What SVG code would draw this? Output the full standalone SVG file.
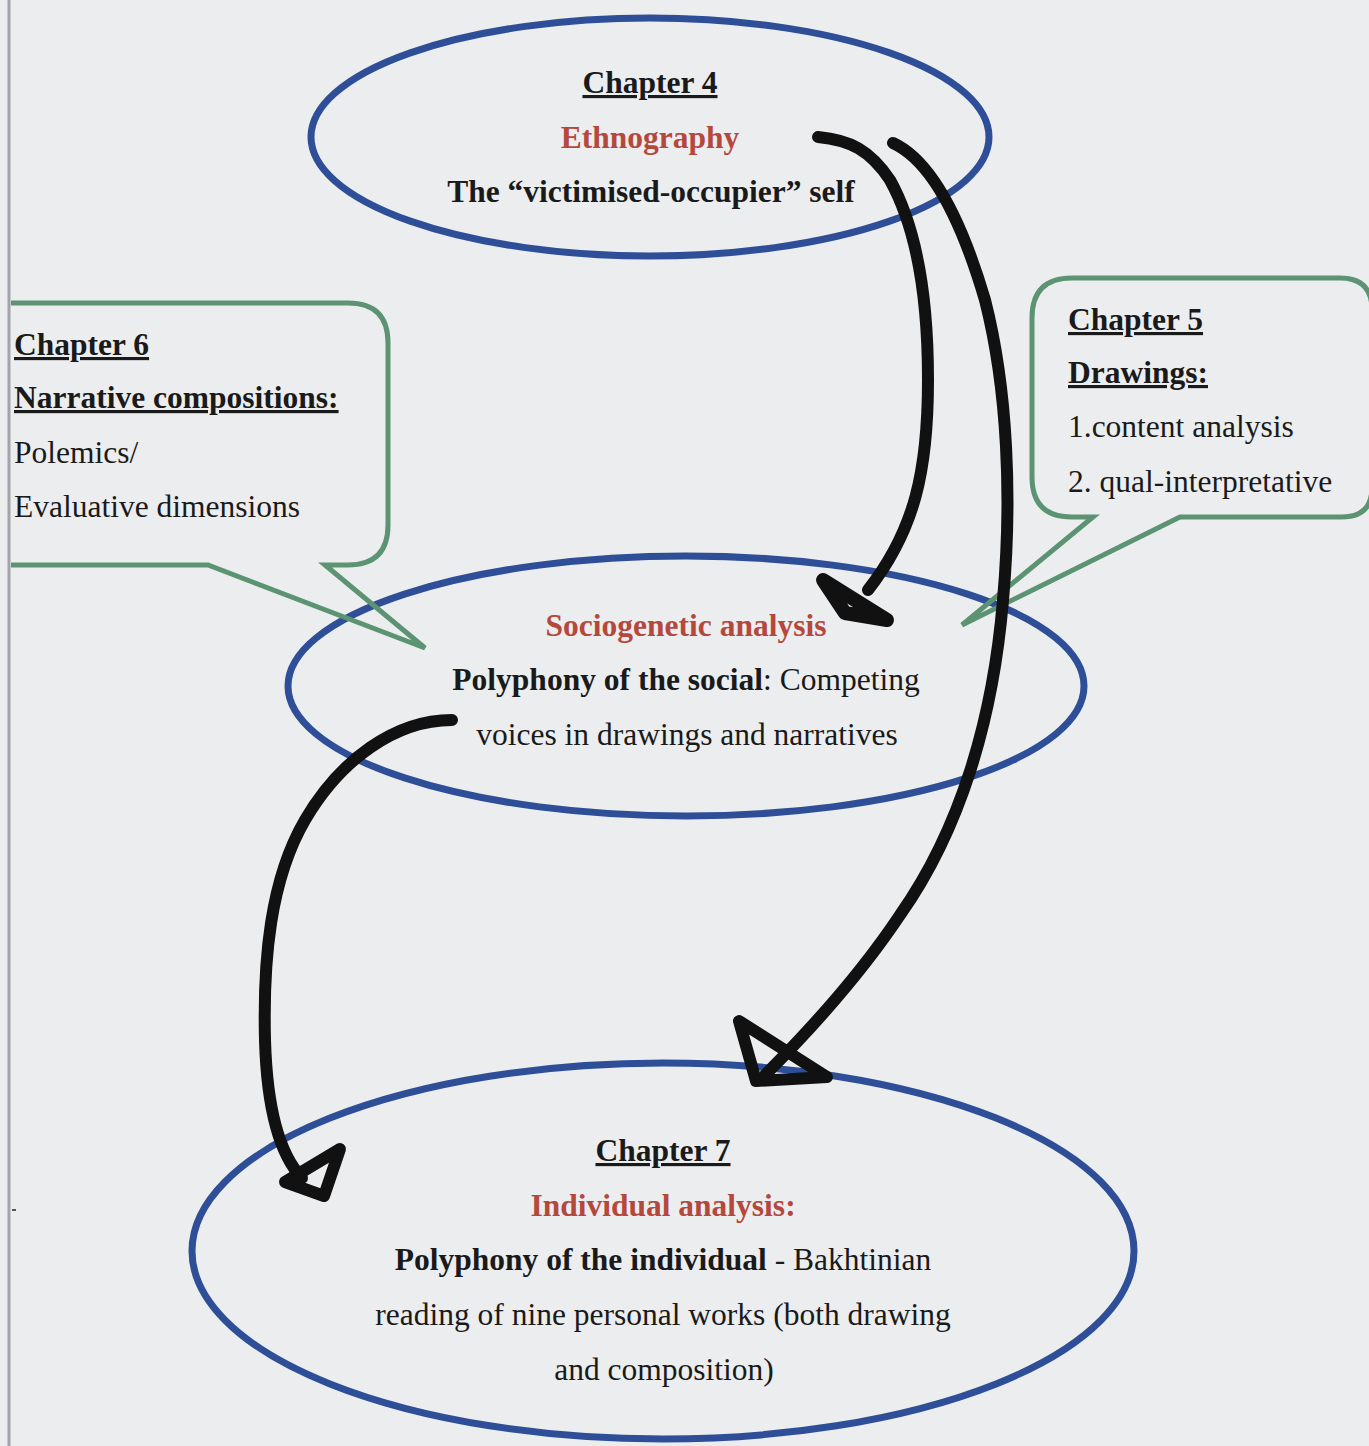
<svg xmlns="http://www.w3.org/2000/svg" width="1369" height="1446" viewBox="0 0 1369 1446">
<defs>
<style>
.t{font-family:"Liberation Serif","Times New Roman",serif;font-size:31.5px;fill:#1a1a1a}
.b{font-weight:bold}
.r{fill:#b5483d;font-weight:bold}
.u{text-decoration:underline}
.c{text-anchor:middle}
.ell{fill:none;stroke:#2e4f98;stroke-width:7}
.call{fill:none;stroke:#5c9473;stroke-width:5;stroke-linejoin:miter}
.arr{fill:none;stroke:#111;stroke-width:12;stroke-linecap:round;stroke-linejoin:round}
</style>
<clipPath id="page"><rect x="11" y="0" width="1360" height="1446"/></clipPath>
</defs>
<rect width="1369" height="1446" fill="#ecedef"/>
<line x1="9" y1="0" x2="9" y2="1446" stroke="#a3a4ab" stroke-width="3"/>
<line x1="12" y1="1210" x2="16" y2="1210" stroke="#555" stroke-width="2"/>
<g clip-path="url(#page)">
<g id="ch4">
<ellipse class="ell" cx="650" cy="137" rx="339" ry="119"/>
<text class="t b u c" x="650" y="93">Chapter 4</text>
<text class="t r c" x="650" y="148">Ethnography</text>
<text class="t b c" x="651" y="202">The “victimised-occupier” self</text>
</g>
<g id="socio">
<ellipse class="ell" cx="686" cy="686" rx="398" ry="130"/>
<text class="t r c" x="686" y="636">Sociogenetic analysis</text>
<text class="t c" x="686" y="690"><tspan class="b">Polyphony of the social</tspan>: Competing</text>
<text class="t c" x="687" y="745">voices in drawings and narratives</text>
</g>
<g id="ch7">
<ellipse class="ell" cx="663" cy="1251" rx="471" ry="188"/>
<text class="t b u c" x="663" y="1161">Chapter 7</text>
<text class="t r c" x="663" y="1216">Individual analysis:</text>
<text class="t c" x="663" y="1270"><tspan class="b">Polyphony of the individual</tspan> - Bakhtinian</text>
<text class="t c" x="663" y="1325">reading of nine personal works (both drawing</text>
<text class="t c" x="664" y="1380">and composition)</text>
</g>
<g id="ch6">
<path class="call" d="M-20,303 H348 Q388,303 388,343 V525 Q388,565 348,565 H325 L425,648 L208,565 H-20 Z"/>
<text class="t b u" x="14" y="355">Chapter 6</text>
<text class="t b u" x="14" y="408">Narrative compositions:</text>
<text class="t" x="14" y="463">Polemics/</text>
<text class="t" x="14" y="517">Evaluative dimensions</text>
</g>
<g id="ch5">
<path class="call" d="M1072,278 H1340 Q1372,278 1372,310 V487 Q1372,517 1342,517 H1180 L962,625 L1093,517 H1072 Q1032,517 1032,477 V318 Q1032,278 1072,278 Z"/>
<text class="t b u" x="1068" y="330">Chapter 5</text>
<text class="t b u" x="1068" y="383">Drawings:</text>
<text class="t" x="1068" y="437">1.content analysis</text>
<text class="t" x="1068" y="492">2. qual-interpretative</text>
</g>
<g id="connectors">
<path class="arr" d="M818,137 C850,140 870,150 890,180 C915,225 928,290 928,380 C928,470 915,530 868,590"/>
<polygon class="arr" points="823,580 887,620 845,613" fill="#111" style="stroke-width:14"/>
<path class="arr" d="M893,143 C930,160 960,215 985,300 C1008,390 1012,500 1003,600 C993,720 960,830 900,915 C860,975 810,1030 765,1075"/>
<polygon class="arr" points="739,1021 756,1081 827,1077"/>
<path class="arr" d="M452,720 C395,720 340,760 305,820 C270,880 263,960 265,1040 C267,1110 280,1155 302,1178"/>
<polygon class="arr" points="285,1182 340,1149 324,1196"/>
</g>
</g>
</svg>
